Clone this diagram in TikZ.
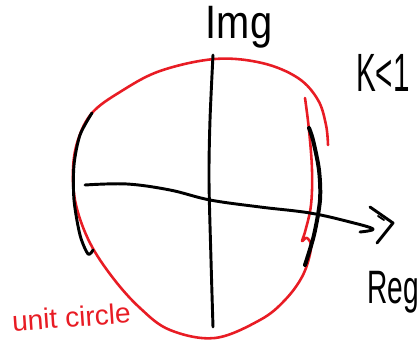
\documentclass[tikz,border=0pt]{standalone}
\usepackage{fontspec}
\setmainfont{Liberation Sans}
\usepackage{graphicx}
\definecolor{InkRed}{RGB}{232, 28, 36}

\begin{document}
\begin{tikzpicture}[x=0.03cm, y=-0.03cm,
        ink/.style={line width=2.5pt, line cap=round, line join=round},
        redink/.style={ink, line width=2.2pt, InkRed},
        scrawl/.style={anchor=base, inner sep=0pt}
    ]
    \useasboundingbox (0,0) rectangle (419,345);

    % unit circle (red), drawn in one go
    \draw[redink] plot[smooth, tension=0.6] coordinates {
        (305,98) (309,130) (312,170) (311,205) (305,232) (302,241) (307,238)
        (311,248) (303,275) (285,300) (260,320) (215,338) (170,330) (140,308)
        (113,278) (90,243) (76,205) (73,170) (78,140) (92,113) (120,92)
        (160,71) (215,59) (262,63) (298,78) (318,100) (326,125) (328,145)};

    % axes
    \draw[ink] plot[smooth] coordinates {(213,55) (210,120) (209,180) (211,260) (213,327)};
    \draw[ink] plot[smooth, tension=0.6] coordinates {
        (85,185) (127,184) (170,190) (210,200) (260,207) (310,213)
        (350,222) (373,229) (360,232)};
    \draw[ink] (370,207) -- (393,223) -- (377,243);
    \draw[ink, line width=1.6pt] (378,216) -- (384,220);

    % black arcs on the circle
    \draw[ink] plot[smooth] coordinates {(92,113) (80,135) (74,165) (74,200) (80,235) (88,254) (93,250)};
    \draw[ink, line width=3.4pt] plot[smooth] coordinates {(309,128) (313,140) (319,170) (320,200) (314,235) (305,265)};

    % labels
    \node[scrawl, font=\fontsize{40}{40}\selectfont] (img) at (239,39) {\scalebox{0.85}[1]{Img}};
    \node[scrawl, font=\fontsize{46}{46}\selectfont] (kcond) at (383,92) {\scalebox{0.55}[1]{K<1}};
    \node[scrawl, font=\fontsize{40}{40}\selectfont] (reg) at (393,303) {\scalebox{0.6}[1]{Reg}};
    \node[scrawl, InkRed, rotate=4, font=\fontsize{24}{24}\selectfont] (unitlbl) at (72,327) {unit circle};
\end{tikzpicture}
\end{document}
